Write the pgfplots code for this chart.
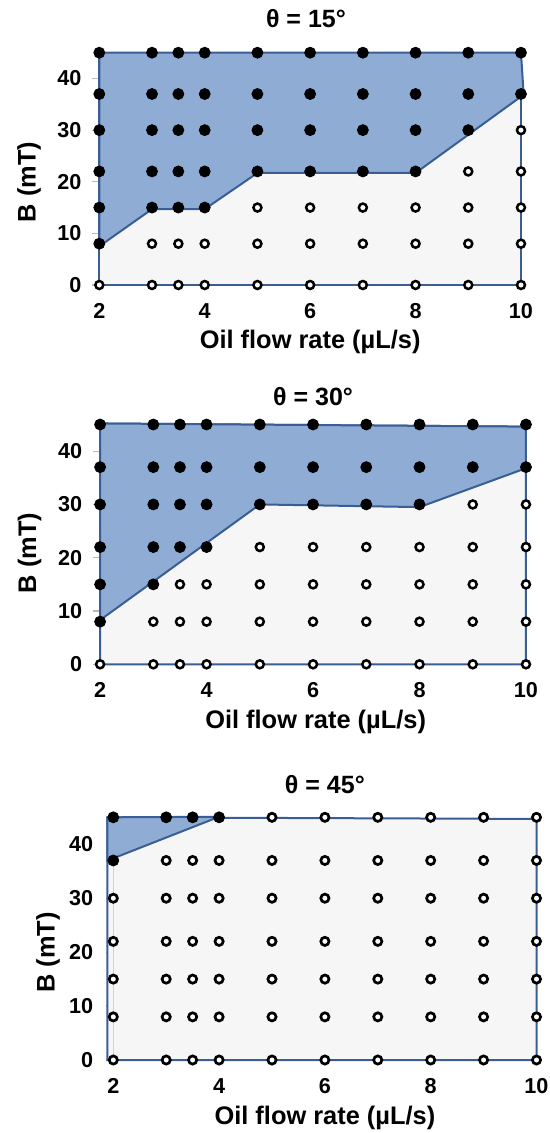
\documentclass[border=0pt]{standalone}
\usepackage{fontspec}
\setmainfont{Liberation Sans}
\usepackage{pgfplots}
\pgfplotsset{compat=1.18}
\definecolor{bfill}{RGB}{142,172,212}
\definecolor{bline}{RGB}{58,94,148}
\definecolor{gfill}{RGB}{246,246,246}
\pgfplotsset{every axis title shift=0pt,
panel/.style={
  scale only axis, anchor=south west,
  xmin=2, xmax=10, ymin=0, ymax=45, clip=false,
  axis lines*=left, axis line style={draw=none},
  xtick={2,4,6,8,10}, ytick={0,10,20,30,40},
  xtick style={draw=none}, ytick style={draw=gray!55, line width=0.6pt},
  tick align=outside, major tick length=3.8pt,
  tick label style={font=\fontsize{10.8}{12}\selectfont\bfseries},
  /pgf/number format/assume math mode=true,
  xticklabel style={anchor=center, yshift=-9.2pt},
  yticklabel style={xshift=-1.6pt},
  label style={font=\fontsize{12.7}{14}\selectfont\bfseries},
  title style={font=\fontsize{12.5}{14}\selectfont\bfseries, anchor=center},
  xlabel={Oil flow rate (µL/s)}, ylabel={B (mT)},
},
filled/.style={only marks, mark=*, mark size=2.75pt, mark options={fill=black, draw=black}},
open/.style={only marks, mark=*, mark size=2.0pt, mark options={fill=white, draw=black, line width=1.25pt}},
open3/.style={only marks, mark=*, mark size=2.05pt, mark options={fill=white, draw=black, line width=1.35pt}},
}
\begin{document}
\begin{tikzpicture}
\useasboundingbox (0,0) rectangle (275pt,-566.5pt);
% ---------- theta = 15
\begin{axis}[panel, at={(49.65pt,-142.5pt)}, width=210.85pt, height=116.15pt,
  title={θ = 15°}, title style={at={(rel axis cs:0.5,1)}, yshift=16.85pt, xshift=-2.1pt},
  xlabel style={at={(rel axis cs:0.5,0)}, anchor=center, yshift=-28.4pt},
  ylabel style={at={(rel axis cs:0,0.444)}, anchor=center, yshift=35.15pt}]
\addplot[fill=gfill, draw=bline, line width=1pt] coordinates {(2,0) (10,0) (10,45) (2,45)} -- cycle;
\addplot[fill=bfill, draw=bline, line width=1pt] coordinates {(2,45) (10,45) (10.05,37) (10,36.5) (8,21.7) (5,21.7) (4,14.7) (3,14.7) (2,7.5)} -- cycle;
\addplot[filled] coordinates {
(2,8)(2,15)(2,22)(2,30)(2,37)(2,45)
(3,15)(3,22)(3,30)(3,37)(3,45)
(3.5,15)(3.5,22)(3.5,30)(3.5,37)(3.5,45)
(4,15)(4,22)(4,30)(4,37)(4,45)
(5,22)(5,30)(5,37)(5,45)
(6,22)(6,30)(6,37)(6,45)
(7,22)(7,30)(7,37)(7,45)
(8,22)(8,30)(8,37)(8,45)
(9,30)(9,37)(9,45)
(10,37)(10,45)};
\addplot[open] coordinates {
(2,0)
(3,0)(3,8) (3.5,0)(3.5,8) (4,0)(4,8)
(5,0)(5,8)(5,15) (6,0)(6,8)(6,15) (7,0)(7,8)(7,15) (8,0)(8,8)(8,15)
(9,0)(9,8)(9,15)(9,22)
(10,0)(10,8)(10,15)(10,22)(10,30)};
\end{axis}
% ---------- theta = 30
\begin{axis}[panel, at={(50.05pt,-332.15pt)}, width=212.95pt, height=119.9pt,
  title={θ = 30°}, title style={at={(rel axis cs:0.5,1)}, yshift=13.75pt},
  xlabel style={at={(rel axis cs:0.5,0)}, anchor=center, yshift=-28.9pt, xshift=1.3pt},
  ylabel style={at={(rel axis cs:0,0.464)}, anchor=center, yshift=35.3pt}]
\addplot[fill=gfill, draw=bline, line width=1pt] coordinates {(2,0) (10,0) (10,44.6) (2,45.2)} -- cycle;
\addplot[fill=bfill, draw=bline, line width=1pt] coordinates {(2,45.2) (10,44.6) (10,36.8) (8,29.5) (5,30) (2,8.3)} -- cycle;
\addplot[filled] coordinates {
(2,8)(2,15)(2,22)(2,30)(2,37)(2,45)
(3,15)(3,22)(3,30)(3,37)(3,45)
(3.5,22)(3.5,30)(3.5,37)(3.5,45)
(4,22)(4,30)(4,37)(4,45)
(5,30)(5,37)(5,45)
(6,30)(6,37)(6,45)
(7,30)(7,37)(7,45)
(8,30)(8,37)(8,45)
(9,37)(9,45)
(10,37)(10,45)};
\addplot[open] coordinates {
(2,0)
(3,0)(3,8)
(3.5,0)(3.5,8)(3.5,15) (4,0)(4,8)(4,15)
(5,0)(5,8)(5,15)(5,22) (6,0)(6,8)(6,15)(6,22)
(7,0)(7,8)(7,15)(7,22) (8,0)(8,8)(8,15)(8,22)
(9,0)(9,8)(9,15)(9,22)(9,30)
(10,0)(10,8)(10,15)(10,22)(10,30)};
\end{axis}
% ---------- theta = 45
\begin{axis}[panel, at={(56.65pt,-530pt)}, width=211.6pt, height=121.35pt,
  title={θ = 45°}, title style={at={(rel axis cs:0.5,1)}, yshift=16.15pt},
  xlabel style={at={(rel axis cs:0.5,0)}, anchor=center, yshift=-28.9pt},
  ylabel style={at={(rel axis cs:0,0.443)}, anchor=center, yshift=32.65pt},
  yticklabel style={xshift=-1.2pt}]
\addplot[fill=gfill, draw=bline, line width=1pt] coordinates {(1.887,0) (10,0) (10,44.7) (1.887,45)} -- cycle;
\addplot[draw=gray!35, line width=0.7pt] coordinates {(2,0) (2,45)};
\addplot[fill=bfill, draw=bline, line width=1pt] coordinates {(1.887,45) (4,45.1) (2,37.4) (1.887,37)} -- cycle;
\addplot[filled] coordinates {(2,37)(2,45)(3,45)(3.5,45)(4,45)};
\addplot[open3] coordinates {
(2,0)(2,8)(2,15)(2,22)(2,30)
(3,0)(3,8)(3,15)(3,22)(3,30)(3,37)
(3.5,0)(3.5,8)(3.5,15)(3.5,22)(3.5,30)(3.5,37)
(4,0)(4,8)(4,15)(4,22)(4,30)(4,37)
(5,0)(5,8)(5,15)(5,22)(5,30)(5,37)(5,45)
(6,0)(6,8)(6,15)(6,22)(6,30)(6,37)(6,45)
(7,0)(7,8)(7,15)(7,22)(7,30)(7,37)(7,45)
(8,0)(8,8)(8,15)(8,22)(8,30)(8,37)(8,45)
(9,0)(9,8)(9,15)(9,22)(9,30)(9,37)(9,45)
(10,0)(10,8)(10,15)(10,22)(10,30)(10,37)(10,45)};
\end{axis}
\end{tikzpicture}
\end{document}
